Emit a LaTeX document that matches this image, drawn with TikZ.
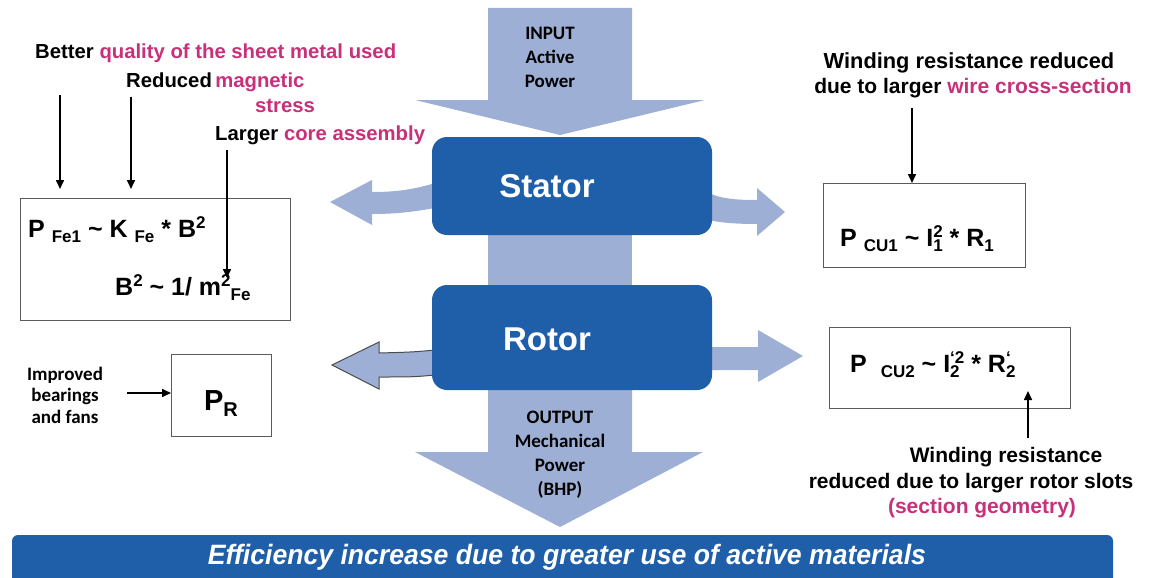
\documentclass[tikz,border=0pt]{standalone}
\usepackage{fontspec}
\usepackage{graphicx}
\setmainfont{Liberation Sans}
\newfontfamily\calib{Carlito}
\usetikzlibrary{arrows.meta}
\definecolor{boxblue}{RGB}{31,94,168}
\definecolor{flowblue}{RGB}{157,175,213}
\definecolor{hl}{RGB}{200,48,122}
\definecolor{frame}{RGB}{90,90,90}
\newcommand\myup[1]{\raisebox{8.5pt}{\fontsize{17}{17}\selectfont #1}}
\newcommand\mydn[1]{\raisebox{-5.5pt}{\fontsize{17}{17}\selectfont #1}}
\newcommand\myss[2]{\setbox0=\hbox{\myup{#1}}\setbox2=\hbox{\mydn{#2}}\ifdim\wd0>\wd2\relax\rlap{\box2}\box0\relax\else\rlap{\box0}\box2\relax\fi}
\tikzset{
  lbl/.style={font=\fontsize{20.3}{24}\selectfont\bfseries, inner sep=0},
  rlbl/.style={font=\fontsize{21}{24}\selectfont\bfseries, inner sep=0},
  formula/.style={font=\fontsize{25}{27}\selectfont\bfseries, inner sep=0},
  cal/.style={font=\calib\bfseries\fontsize{19}{24}\selectfont, inner sep=0, align=center},
  formbox/.style={draw=frame, line width=1.3pt, fill=white, anchor=north west, inner sep=0},
  bluebox/.style={fill=boxblue, rounded corners=15pt},
  blocktext/.style={font=\fontsize{33}{36}\selectfont\bfseries, text=white, inner sep=0, anchor=base},
  arr/.style={-{Triangle[length=9pt,width=8pt]}, line width=1.6pt, black},
  flow/.style={fill=flowblue},
}
\begin{document}
\begin{tikzpicture}[x=1pt,y=-1pt]
\useasboundingbox (0,0) rectangle (1151,578);
% main power flow
\fill[flow] (488,8) -- (632,8) -- (632,100) -- (705,100) -- (560,135) -- (415,100) -- (488,100) -- cycle;
\fill[flow] (488,230) rectangle (632,290);
\fill[flow] (488,385) -- (632,385) -- (632,452) -- (703,452) -- (560,527) -- (415,452) -- (488,452) -- cycle;
% side flows
\fill[flow] (445,180) .. controls (415,190) and (395,192) .. (372,192) -- (372,180) -- (330,202) -- (372,225) -- (372,214) .. controls (400,214) and (420,211) .. (445,206) -- cycle;
\fill[flow] (700,188) .. controls (715,198) and (730,200) .. (757,200) -- (757,188) -- (785,212) -- (757,236) -- (757,224) .. controls (730,224) and (715,222) .. (700,218) -- cycle;
\filldraw[fill=flowblue, draw=black!70, line width=1pt] (445,349) .. controls (415,352) .. (379,353) -- (379,342) -- (332,365) -- (379,389) -- (379,377) .. controls (415,377) .. (445,374);
\fill[flow] (700,347) -- (758,347) -- (758,330) -- (803,356) -- (758,382) -- (758,370) -- (700,370) -- cycle;
% blue blocks
\fill[bluebox] (432,137) rectangle (712,235);
\fill[bluebox] (432,285) rectangle (712,390);
\node[blocktext] (stator) at (547,197) {Stator};
\node[blocktext] (rotor) at (547,350) {Rotor};
\node[cal] (input) at (550,57) {INPUT\\Active\\Power};
\node[cal] (output) at (560,455) {OUTPUT\\Mechanical\\Power\\(BHP)};
% banner
\fill[boxblue] (12,578) [rounded corners=6pt] -- (12,535) -- (1113,535) [sharp corners] -- (1113,578) -- cycle;
\node[font=\fontsize{28}{30}\selectfont\bfseries\itshape, text=white, inner sep=0] (banner) at (567,557) {\scalebox{0.95}[1]{Efficiency increase due to greater use of active materials}};
% left iron-loss box
\node[formbox, minimum width=270pt, minimum height=122pt] (fe) at (20,198) {};
\node[formula, anchor=base west] (fe1) at (28,237) {P \mydn{Fe1} \textasciitilde{} K \mydn{Fe} * B\myup{2}};
\node[formula, anchor=base west] (fe2) at (115,295) {B\myup{2} \textasciitilde{} 1/ m\myup{2}\mydn{Fe}};
\node[lbl, anchor=base west] (better) at (35,59) {Better \textcolor{hl}{quality of the sheet metal used}};
\node[lbl, anchor=base west] (reduced) at (126,88) {Reduced\,\textcolor{hl}{magnetic}};
\node[lbl, anchor=base, text=hl] (stress) at (285,112) {stress};
\node[lbl, anchor=base west] (larger) at (215,140) {Larger \textcolor{hl}{core assembly}};
\coordinate (b1) at (60,95); \coordinate (e1) at (60,189);
\coordinate (b2) at (131,97); \coordinate (e2) at (131,189);
\coordinate (b3) at (227,150); \coordinate (e3) at (227,278);
\draw[arr] (b1) -- (e1);
\draw[arr] (b2) -- (e2);
\draw[arr] (b3) -- (e3);
% friction box
\node[formbox, minimum width=100pt, minimum height=82pt] (prbox) at (171,354) {};
\node[font=\fontsize{29}{30}\selectfont\bfseries, inner sep=0, anchor=base] (pr) at (221,410) {P\raisebox{-6pt}{\fontsize{20}{20}\selectfont R}};
\node[cal, font=\calib\bfseries\fontsize{19}{21.5}\selectfont] (improved) at (65,395) {Improved\\bearings\\and fans};
\coordinate (b4) at (127,393);
\draw[arr] (b4) -- (prbox.west |- b4);
% stator copper
\node[formbox, minimum width=202pt, minimum height=84pt] (cu1box) at (823,183) {};
\node[formula, anchor=base west] (cu1) at (840,246) {P \mydn{CU1} \textasciitilde{} I\myss{2}{1} * R\mydn{1}};
\node[rlbl, font=\fontsize{21.8}{24}\selectfont\bfseries, anchor=base] (w1a) at (969,69) {Winding resistance reduced};
\node[rlbl, anchor=base] (w1b) at (973,93) {due to larger \textcolor{hl}{wire cross-section}};
\coordinate (b5) at (912,108);
\draw[arr] (b5) -- (b5 |- cu1box.north);
% rotor copper
\node[formbox, minimum width=241pt, minimum height=81pt] (cu2box) at (829,327) {};
\node[formula, anchor=base west] (cu2) at (850,372) {P\ \ \mydn{CU2} \textasciitilde{} I\myss{\textquoteleft2}{2} * R\myss{\textquoteleft}{2}};
\node[rlbl, anchor=base] (w2a) at (1006,462) {Winding resistance};
\node[rlbl, anchor=base] (w2b) at (971,488) {reduced due to larger rotor slots};
\node[rlbl, anchor=base, text=hl] (w2c) at (982,513) {(section geometry)};
\coordinate (b6) at (1028,438); \coordinate (e6) at (1028,391);
\draw[arr] (b6) -- (e6);
\end{tikzpicture}
\end{document}
